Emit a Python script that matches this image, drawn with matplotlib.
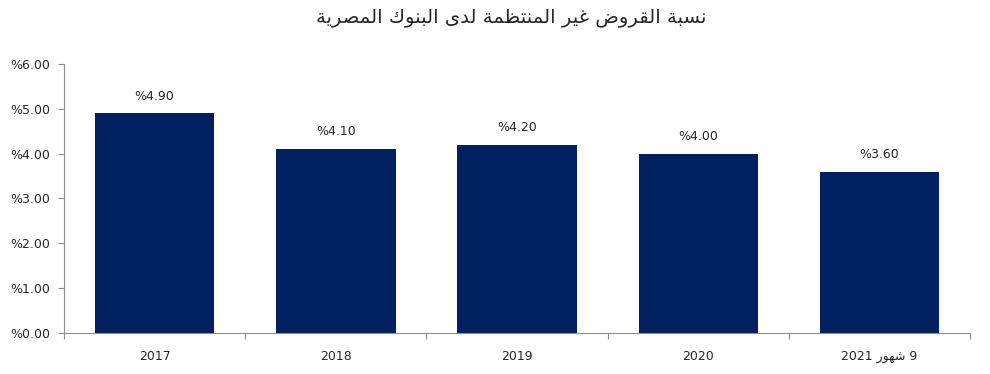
import matplotlib
matplotlib.use("Agg")
import matplotlib.pyplot as plt
import numpy as np

# data
years = ["2017", "2018", "2019", "2020", "2021"]
npl_ratio = [4.90, 4.10, 4.20, 4.00, 3.60]
y_ticks = [0, 1, 2, 3, 4, 5, 6]

title_ar = "نسبة القروض غير المنتظمة لدى البنوك المصرية"
months_ar = "شهور"

# matplotlib does no arabic shaping / bidi, so do it by hand
# presentation forms: isolated, final, initial, medial
forms = {
    "ا": (0xFE8D, 0xFE8E, None, None),
    "ب": (0xFE8F, 0xFE90, 0xFE91, 0xFE92),
    "ة": (0xFE93, 0xFE94, None, None),
    "ت": (0xFE95, 0xFE96, 0xFE97, 0xFE98),
    "د": (0xFEA9, 0xFEAA, None, None),
    "ر": (0xFEAD, 0xFEAE, None, None),
    "س": (0xFEB1, 0xFEB2, 0xFEB3, 0xFEB4),
    "ش": (0xFEB5, 0xFEB6, 0xFEB7, 0xFEB8),
    "ص": (0xFEB9, 0xFEBA, 0xFEBB, 0xFEBC),
    "ض": (0xFEBD, 0xFEBE, 0xFEBF, 0xFEC0),
    "ظ": (0xFEC5, 0xFEC6, 0xFEC7, 0xFEC8),
    "غ": (0xFECD, 0xFECE, 0xFECF, 0xFED0),
    "ق": (0xFED5, 0xFED6, 0xFED7, 0xFED8),
    "ك": (0xFED9, 0xFEDA, 0xFEDB, 0xFEDC),
    "ل": (0xFEDD, 0xFEDE, 0xFEDF, 0xFEE0),
    "م": (0xFEE1, 0xFEE2, 0xFEE3, 0xFEE4),
    "ن": (0xFEE5, 0xFEE6, 0xFEE7, 0xFEE8),
    "ه": (0xFEE9, 0xFEEA, 0xFEEB, 0xFEEC),
    "و": (0xFEED, 0xFEEE, None, None),
    "ى": (0xFEEF, 0xFEF0, None, None),
    "ي": (0xFEF1, 0xFEF2, 0xFEF3, 0xFEF4),
}


def shape_word(word):
    out = []
    for i, ch in enumerate(word):
        f = forms[ch]
        prev = word[i - 1] if i > 0 else None
        nxt = word[i + 1] if i < len(word) - 1 else None
        join_prev = prev is not None and forms[prev][2] is not None
        join_next = nxt is not None and f[2] is not None
        if join_prev and join_next:
            code = f[3]
        elif join_prev:
            code = f[1]
        elif join_next:
            code = f[2]
        else:
            code = f[0]
        out.append(chr(code))
    # visual order is right to left
    return "".join(out)[::-1]


def rtl(text):
    words = [shape_word(w) for w in text.split(" ")]
    return " ".join(words[::-1])


navy = "#002060"
axis_grey = "#8c8c8c"
text_col = "#262626"

plt.rcParams["font.family"] = ["DejaVu Sans"]

fig = plt.figure(figsize=(9.9, 3.74), dpi=100)
ax = fig.add_axes([0.0646, 0.1096, 0.9154, 0.7194])

x = np.arange(len(years))
ax.bar(x, npl_ratio, width=0.66, color=navy, zorder=2)

for xi, v in zip(x, npl_ratio):
    ax.text(xi, v + 0.24, f"%{v:.2f}", ha="center", va="bottom",
            fontsize=9, color=text_col)

ax.set_xlim(-0.5, len(years) - 0.5)
ax.set_ylim(0, 6)
ax.set_yticks(y_ticks)
ax.set_yticklabels([f"%{v:.2f}" for v in y_ticks], fontsize=9, color=text_col)

# last one is "9 months 2021", drawn right to left
xlabels = years[:-1] + [years[-1] + " " + shape_word(months_ar) + " 9"]
ax.set_xticks(x)
ax.set_xticklabels(xlabels, fontsize=9, color=text_col)
ax.tick_params(axis="x", which="major", length=0, pad=12)
ax.set_xticks(np.arange(-0.5, len(years), 1.0), minor=True)
ax.tick_params(axis="x", which="minor", length=4, color=axis_grey, width=0.8)
ax.tick_params(axis="y", length=4, color=axis_grey, width=0.8, pad=6)

for s in ["top", "right"]:
    ax.spines[s].set_visible(False)
for s in ["left", "bottom"]:
    ax.spines[s].set_color(axis_grey)
    ax.spines[s].set_linewidth(0.8)

fig.text(0.516, 0.952, rtl(title_ar), ha="center", va="center",
         fontsize=14, color=text_col)

fig.savefig("out.png", dpi=100)
